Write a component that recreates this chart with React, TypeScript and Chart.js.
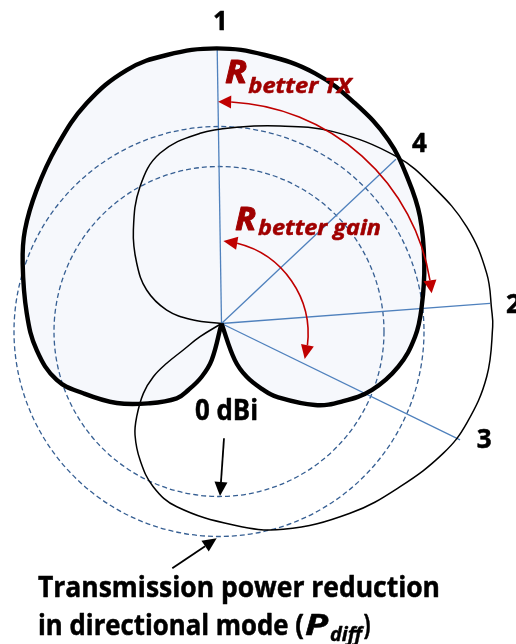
import React, { useEffect, useRef } from "react";
import { Chart, registerables } from "chart.js";

Chart.register(...registerables);

// ---- Data (polar samples: angle in degrees CCW from east, radius in relative units) ----
const thickAngles = [-72, -70, -64.7, -57.8, -53, -41.1, -33, -23.9, -13.7, -3.9, 4.8, 16.5, 28.3, 37.5, 47.7, 58.8, 69.5, 80.8, 91, 101.5, 110.5, 121.5, 133, 144.2, 154.6, 163.2, 177, 188.2, 198.9, 206.8, 217.2, 228.1, 239.1, 243.5, 249.6, 255, 258];
const thickRadii = [0, 39, 59, 78.5, 92, 124, 143.4, 164.3, 182, 194, 200.9, 211.5, 225.4, 235.6, 248, 257.5, 267.1, 272, 275.2, 274, 270.6, 258.2, 241.7, 228, 217.6, 207.7, 195, 186.7, 174.2, 154.8, 131.5, 107.1, 87.2, 74.3, 56.8, 37.8, 0];

const thinAngles = [175, 172.9, 166.2, 155.9, 144.6, 133.3, 120.8, 109.9, 96.4, 84.6, 73.5, 59.8, 43.6, 32.9, 21.5, 10.7, 2.9, -0.7, -11.3, -22.1, -30.3, -42.4, -55.9, -73.3, -86.6, -103.7, -112.7, -120.8, -127.8, -132.3, -138.2, -142, -144, -145.3, -148.4, -150];
const thinRadii = [0, 28.4, 56.4, 82, 104, 128.5, 159.2, 181, 191.4, 197.4, 206, 222, 241.9, 252.1, 263.6, 269.9, 270.5, 271.2, 270.5, 264.7, 257, 241.9, 229.2, 214.9, 201.8, 188.6, 176.9, 159, 141.1, 126, 104.8, 86.5, 67.7, 46.5, 25.2, 0];

const directionLabels = ["1", "4", "2", "3"];
const directionAngles = [90.9, 43.3, 4.3, -26.0];
const directionLengths = [274.5, 239.6, 269.3, 265.4];

const circleNames = ["0 dBi", "Pdiff"];
const circleRadii = [165, 205];

// ---- helpers ----
const DEG = Math.PI / 180;
const toXY = (angles: number[], radii: number[]) =>
  angles.map((a, i) => ({ x: radii[i] * Math.cos(a * DEG), y: radii[i] * Math.sin(a * DEG) }));

const FONT = "'Open Sans', 'Noto Sans', 'DejaVu Sans', sans-serif";
const RED_LINE = "#c00000";
const RED_TEXT = "#a00000";

function head(ctx: CanvasRenderingContext2D, tip: number[], base: number[], hw: number) {
  const dx = tip[0] - base[0];
  const dy = tip[1] - base[1];
  const L = Math.hypot(dx, dy) || 1;
  const nx = -dy / L;
  const ny = dx / L;
  ctx.beginPath();
  ctx.moveTo(tip[0], tip[1]);
  ctx.lineTo(base[0] + nx * hw, base[1] + ny * hw);
  ctx.lineTo(base[0] - nx * hw, base[1] - ny * hw);
  ctx.closePath();
  ctx.fill();
}

function arcArrow(ctx: CanvasRenderingContext2D, cx: number, cy: number, R: number, a0: number, a1: number, headLen: number, hw: number) {
  const P = (a: number) => [cx + R * Math.cos(a * DEG), cy - R * Math.sin(a * DEG)];
  const s = a1 > a0 ? 1 : -1;
  const dA = headLen / R / DEG;
  const b0 = a0 + s * dA;
  const b1 = a1 - s * dA;
  ctx.beginPath();
  ctx.arc(cx, cy, R, -b0 * DEG, -b1 * DEG, s > 0);
  ctx.stroke();
  head(ctx, P(a0), P(b0), hw);
  head(ctx, P(a1), P(b1), hw);
}

function lineArrow(ctx: CanvasRenderingContext2D, from: number[], tip: number[], headLen: number, hw: number) {
  const dx = tip[0] - from[0];
  const dy = tip[1] - from[1];
  const L = Math.hypot(dx, dy);
  const base = [tip[0] - (dx / L) * headLen, tip[1] - (dy / L) * headLen];
  ctx.beginPath();
  ctx.moveTo(from[0], from[1]);
  ctx.lineTo(base[0], base[1]);
  ctx.stroke();
  head(ctx, tip, base, hw);
}

const diagramPlugin = {
  id: "diagram",
  afterDatasetDraw(chart: any, args: any) {
    if (args.index !== 0) return;
    const { ctx } = chart;
    const xs = chart.scales.x;
    const ys = chart.scales.y;
    const unit = xs.getPixelForValue(1) - xs.getPixelForValue(0);
    const cx = xs.getPixelForValue(-2.5);
    const cy = ys.getPixelForValue(-8);
    ctx.save();
    ctx.setLineDash([5, 3]);
    ctx.strokeStyle = "#365f93";
    ctx.lineWidth = 1.3;
    circleRadii.forEach((r) => {
      ctx.beginPath();
      ctx.arc(cx, cy, r * unit, 0, Math.PI * 2);
      ctx.stroke();
    });
    ctx.restore();
  },
  afterDatasetsDraw(chart: any) {
    const { ctx } = chart;
    const xs = chart.scales.x;
    const ys = chart.scales.y;
    const unit = xs.getPixelForValue(1) - xs.getPixelForValue(0);
    const P = (X: number, Y: number) => [xs.getPixelForValue(X), ys.getPixelForValue(Y)];

    ctx.save();
    // red arcs
    ctx.strokeStyle = RED_LINE;
    ctx.fillStyle = RED_LINE;
    ctx.lineWidth = 1.6;
    let c = P(-1.5, 9.1);
    arcArrow(ctx, c[0], c[1], 212.7 * unit, 90.5, 5.7, 13, 6.5);
    c = P(-6.9, -10.5);
    arcArrow(ctx, c[0], c[1], 93.5 * unit, 84.6, -15.5, 14, 6.5);

    // black arrows
    ctx.strokeStyle = "#000";
    ctx.fillStyle = "#000";
    ctx.lineWidth = 1.8;
    lineArrow(ctx, P(2.5, -114.8), P(-1.5, -172.5), 14, 6.5);
    lineArrow(ctx, P(-49.2, -244.8), P(-4.8, -214.8), 14, 6.5);

    const text = (s: string, X: number, Y: number, font: string, color: string, align: CanvasTextAlign = "left", fitW?: number, embolden = 0.5) => {
      ctx.font = font;
      ctx.fillStyle = color;
      ctx.strokeStyle = color;
      ctx.lineWidth = embolden;
      ctx.lineJoin = "round";
      ctx.textAlign = align;
      ctx.textBaseline = "alphabetic";
      const [px, py] = P(X, Y);
      ctx.save();
      ctx.translate(px, py);
      if (fitW) {
        const w = ctx.measureText(s).width;
        ctx.scale(fitW / w, 1);
      }
      ctx.fillText(s, 0, 0);
      if (embolden > 0) ctx.strokeText(s, 0, 0);
      ctx.restore();
    };

    // direction labels
    const labelPos = [
      [-1, 293.5, "center"],
      [198, 171.8, "center"],
      [284.5, 10.5, "left"],
      [255.2, -124.8, "left"],
    ];
    directionLabels.forEach((l, i) => {
      const p = labelPos[i];
      text(l, p[0] as number, p[1] as number, `bold 26px ${FONT}`, "#000", p[2] as CanvasTextAlign);
    });

    // R labels
    text("R", 3.5, 240.2, `italic bold 32px ${FONT}`, RED_TEXT, "left", 22, 0.9);
    text("better TX", 26.8, 231, `italic bold 22px ${FONT}`, RED_TEXT, "left", 103, 0.5);
    text("R", 13.5, 93.5, `italic bold 32px ${FONT}`, RED_TEXT, "left", 21, 0.9);
    text("better gain", 36.5, 88.5, `italic bold 22px ${FONT}`, RED_TEXT, "left", 123, 0.5);

    // circle annotations
    text(circleNames[0], -26.5, -96.5, `bold 28px ${FONT}`, "#000", "left", 63);
    text("Transmission power reduction", -183.5, -273.5, `bold 28px ${FONT}`, "#000", "left", 402);
    text("in directional mode (", -183.5, -311, `bold 28px ${FONT}`, "#000", "left", 266);
    text("P", 83.5, -311, `italic bold 28px ${FONT}`, "#000", "left", 23);
    text("diff", 108.5, -317.5, `italic bold 19px ${FONT}`, "#000", "left", 32, 0.4);
    text(")", 142, -311, `bold 28px ${FONT}`, "#000", "left", 7);
    ctx.restore();
  },
};

export default function App() {
  const canvasRef = useRef<HTMLCanvasElement | null>(null);

  useEffect(() => {
    document.body.style.margin = "0";
    const canvas = canvasRef.current;
    if (!canvas) return;
    const thick = toXY(thickAngles, thickRadii);
    const thin = toXY(thinAngles, thinRadii);
    const rays = directionLabels.map((label, i) => ({
      label: "dir " + label,
      data: [
        { x: 0, y: 0 },
        {
          x: directionLengths[i] * Math.cos(directionAngles[i] * DEG),
          y: directionLengths[i] * Math.sin(directionAngles[i] * DEG),
        },
      ],
      showLine: true,
      borderColor: "#4f81bd",
      borderWidth: 1.3,
      pointRadius: 0,
      tension: 0,
      fill: false,
      order: 8,
    }));

    const chart = new Chart(canvas, {
      type: "scatter",
      data: {
        datasets: [
          {
            label: "omni fill",
            data: thick,
            showLine: true,
            borderWidth: 0,
            borderColor: "rgba(0,0,0,0)",
            backgroundColor: "#f6f8fc",
            fill: "shape",
            pointRadius: 0,
            tension: 0.4,
            order: 10,
          },
          ...rays,
          {
            label: "directional",
            data: thin,
            showLine: true,
            borderColor: "#000",
            borderWidth: 1.5,
            pointRadius: 0,
            tension: 0.4,
            fill: false,
            order: 5,
          },
          {
            label: "omni",
            data: thick,
            showLine: true,
            borderColor: "#000",
            borderWidth: 4.4,
            pointRadius: 0,
            tension: 0.4,
            fill: false,
            order: 4,
          },
        ] as any,
      },
      options: {
        animation: false,
        responsive: false,
        maintainAspectRatio: false,
        layout: { padding: 0 },
        events: [],
        plugins: {
          legend: { display: false },
          tooltip: { enabled: false },
          title: { display: false },
        },
        scales: {
          x: { type: "linear", min: -221.5, max: 294.5, display: false },
          y: { type: "linear", min: -320.5, max: 323.5, display: false },
        },
      },
      plugins: [diagramPlugin],
    });
    return () => chart.destroy();
  }, []);

  return (
    <div style={{ width: 516, height: 644, background: "#fff" }}>
      <canvas ref={canvasRef} width={516} height={644} style={{ display: "block" }} />
    </div>
  );
}
